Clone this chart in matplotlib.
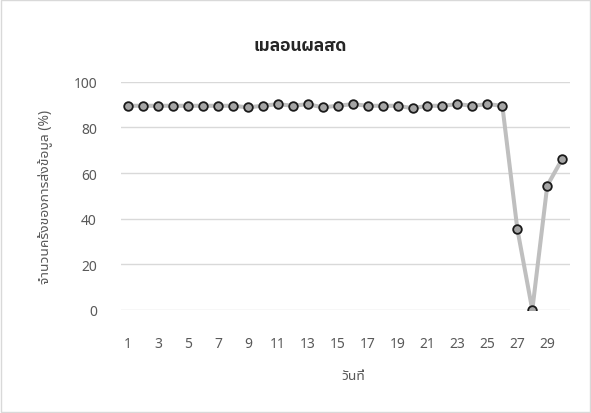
import numpy as np
import matplotlib
matplotlib.use("Agg")
import matplotlib.pyplot as plt

days = list(range(1, 31))
values = [89.5, 89.5, 89.5, 89.5, 89.5, 89.5, 89.5, 89.5, 88.8, 89.5,
          90.2, 89.5, 90.2, 88.8, 89.5, 90.2, 89.5, 89.5, 89.5, 88.4,
          89.5, 89.5, 90.2, 89.5, 90.2, 89.5, 35.5, 0.0, 54.5, 66.2]
xticks = list(range(1, 31, 2))
yticks = [0, 20, 40, 60, 80, 100]

title = "เมลอนผลสด"
xlabel = "วันที่"
ylabel = "จำนวนครั้งของการส่งข้อมูล (%)"

plt.rcParams['font.family'] = ['Noto Sans Thai UI', 'Noto Sans', 'DejaVu Sans']

fig = plt.figure(figsize=(5.91, 4.14), dpi=100)
ax = fig.add_axes([0.204, 0.249, 0.76, 0.551])

ax.plot(days, values, color='#BFBFBF', linewidth=2.9, zorder=2)
ax.plot(days, values, linestyle='none', marker='o', markersize=6.2,
        markerfacecolor='#A5A5A5', markeredgecolor='#1a1a1a',
        markeredgewidth=1.3, zorder=3)

ax.set_xlim(0.5, 30.5)
ax.set_ylim(0, 100)
ax.set_xticks(xticks)
ax.set_yticks(yticks)
ax.yaxis.grid(True, color='#D9D9D9', linewidth=1)
ax.set_axisbelow(True)
for s in ax.spines.values():
    s.set_visible(False)
ax.tick_params(length=0, labelsize=10, labelcolor='#595959')
ax.tick_params(axis='x', pad=19)
ax.tick_params(axis='y', pad=17)

# title in a Thai face that ships a real bold file
fig.text(0.508, 0.887, title, ha='center', va='center',
         fontsize=12.5, fontweight='bold', color='#262626',
         family=['IBM Plex Sans Thai', 'Noto Sans Thai UI', 'DejaVu Sans'])
fig.text(0.597, 0.09, xlabel, ha='center', va='center',
         fontsize=10, color='#595959')
fig.text(0.077, 0.524, ylabel, ha='center', va='center',
         rotation=90, fontsize=10, color='#595959')

fig.patches.append(plt.Rectangle((0.002, 0.002), 0.996, 0.996, transform=fig.transFigure,
                                 fill=False, edgecolor='#D9D9D9', linewidth=1))

fig.savefig("out.png", dpi=100)
